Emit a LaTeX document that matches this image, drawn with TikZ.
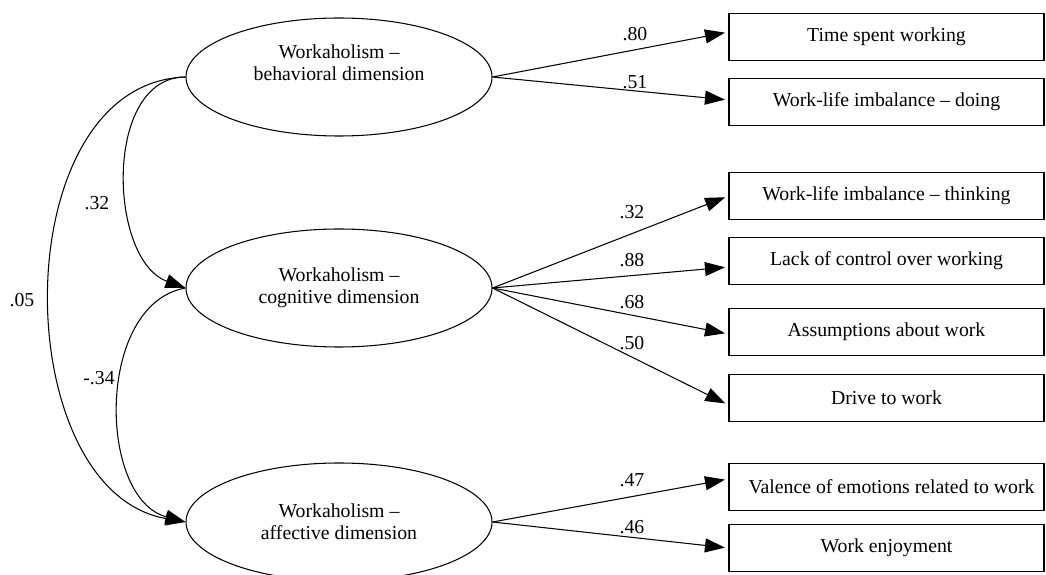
\documentclass[tikz,border=0pt]{standalone}
\usepackage{fontspec}
\setmainfont{Liberation Serif}
\usetikzlibrary{shapes, arrows.meta, positioning}

\begin{document}
\begin{tikzpicture}[
  font=\fontsize{11.25}{12.5}\selectfont,
  line width=0.6pt,
  latent/.style={ellipse, draw, align=center, minimum width=6.12cm, minimum height=2.36cm, inner sep=0pt},
  indicator/.style={rectangle, draw, minimum width=6.3cm, minimum height=0.94cm, inner sep=0pt},
  load/.style={-{Triangle[length=0.4cm, width=0.28cm]}, shorten >=2pt},
]
\useasboundingbox (0,0) rectangle (20.92,-11.5);

% 潜变量
\node[latent, text depth=0.58cm] (beh) at (6.78,-1.54) {Workaholism –\\ behavioral dimension};
\node[latent] (cog) at (6.78,-5.76) {Workaholism –\\ cognitive dimension};
\node[latent] (aff) at (6.78,-10.44) {Workaholism –\\ affective dimension};

% 观测变量
\node[indicator] (tsw) at (17.73,-0.74) {Time spent working};
\node[indicator] (wlid) at (17.73,-2.04) {Work-life imbalance – doing};
\node[indicator] (wlit) at (17.73,-3.92) {Work-life imbalance – thinking};
\node[indicator] (lcw) at (17.73,-5.22) {Lack of control over working};
\node[indicator] (aaw) at (17.73,-6.64) {Assumptions about work};
\node[indicator] (dtw) at (17.73,-7.96) {Drive to work};
\node[indicator] (vew) at (17.73,-9.74) {\hspace{0.2cm}Valence of emotions related to work};
\node[indicator] (wen) at (17.73,-10.96) {Work enjoyment};

% 因子载荷
\draw[load] (beh.east) -- ([yshift=0.1cm]tsw.west);
\draw[load] (beh.east) -- ([yshift=0.04cm]wlid.west);
\draw[load] (cog.east) -- (wlit.west);
\draw[load] (cog.east) -- ([yshift=-0.12cm]lcw.west);
\draw[load] (cog.east) -- ([yshift=-0.04cm]aaw.west);
\draw[load] (cog.east) -- ([yshift=-0.14cm]dtw.west);
\draw[load] (aff.east) -- ([yshift=0.16cm]vew.west);
\draw[load] (aff.east) -- (wen.west);

\node (w80) at (12.7,-0.69) {.80};
\node (w51) at (12.7,-1.64) {.51};
\node (w32) at (12.64,-4.24) {.32};
\node (w88) at (12.64,-5.2) {.88};
\node (w68) at (12.64,-6.04) {.68};
\node (w50) at (12.64,-6.86) {.50};
\node (w47) at (12.64,-9.6) {.47};
\node (w46) at (12.64,-10.54) {.46};

% 因子间相关
\draw[load, shorten >=0pt] (beh.west) to[out=180, in=160] (cog.west);
\draw[load, shorten >=0pt] (beh.west) to[out=182, in=170, looseness=1.05] (aff.west);
\draw[load, shorten >=0pt] (cog.west) to[out=190, in=165] (aff.west);

\node (r32) at (1.94,-4.06) {.32};
\node (r05) at (0.44,-6.0) {.05};
\node (r34) at (1.98,-7.56) {-.34};
\end{tikzpicture}
\end{document}
